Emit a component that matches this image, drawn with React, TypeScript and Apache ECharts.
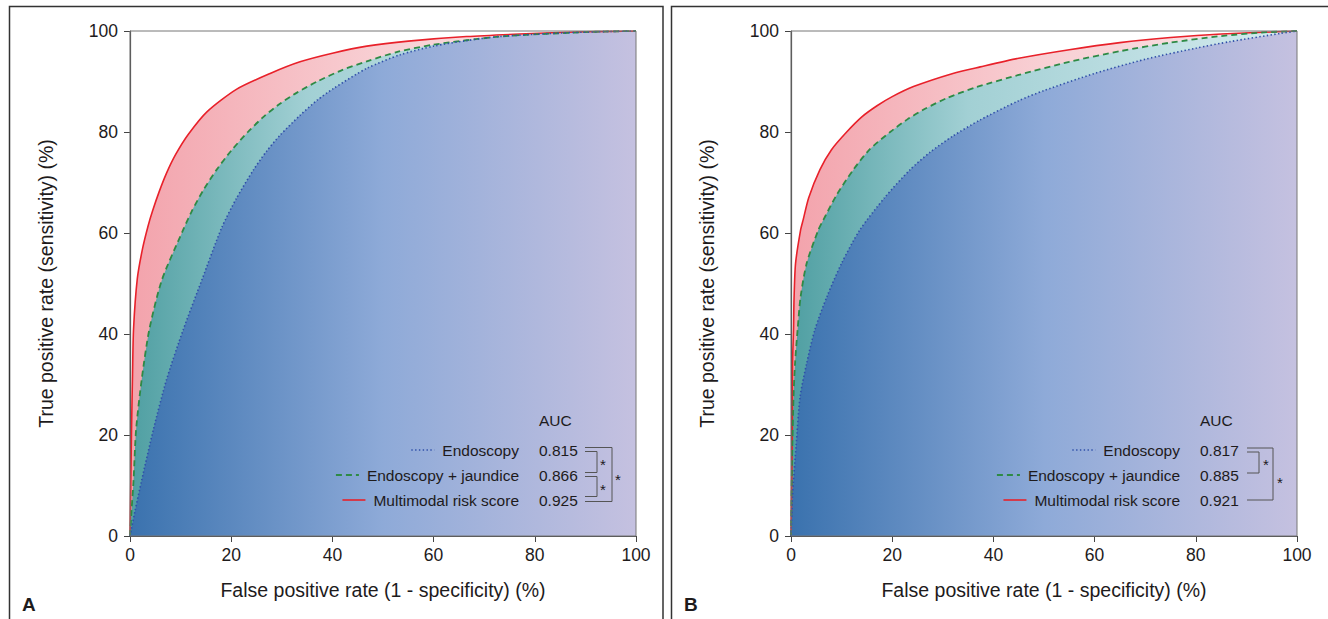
import React, { useEffect, useRef } from "react";
import * as echarts from "echarts";

// ---- Data (FPR %, TPR %) ----
const xTicks = [0, 20, 40, 60, 80, 100];
const seriesNames = ["Endoscopy", "Endoscopy + jaundice", "Multimodal risk score"];
const aucA = ["0.815", "0.866", "0.925"];
const aucB = ["0.817", "0.885", "0.921"];

const endoA = [[0,0],[1,5],[2.3,11],[4.6,21],[7.2,30.9],[10.5,40.8],[14.2,50.7],[18.1,61],[21,66.8],[24.4,72.5],[27,76.2],[29.6,79.3],[33.6,83.3],[37,86.3],[40.2,88.6],[46.8,92.6],[53.4,95.3],[60,97],[66.5,98.1],[73,98.9],[83,99.5],[92,99.85],[100,100]];
const jaundA = [[0,0],[0.3,5],[0.7,11],[1.2,21],[2.3,30.9],[3.8,40.8],[6.3,50.7],[10.5,60.6],[12.2,64.3],[14.5,68.5],[17.1,72.5],[20,76.3],[23.3,80],[26.5,83.1],[29.5,85.5],[33,87.8],[37,90],[42,92.3],[46.8,94],[53,95.9],[60,97.3],[73,98.9],[83.6,99.5],[92,99.85],[100,100]];
const multiA = [[0,0],[0.15,10],[0.3,21],[0.5,32],[0.7,41],[1.45,51],[2.5,57],[3.6,61.5],[4.5,64.5],[5.7,68],[7.2,71.8],[9,75.5],[11.5,79.5],[15.2,84],[21.1,88.5],[27.7,91.6],[33.6,93.9],[40,95.6],[46.8,97],[55,98],[66.5,98.9],[79.5,99.5],[90,99.85],[100,100]];

const endoB = [[0,0],[0.3,8],[1,17.7],[1.8,27.6],[3.1,34.2],[4.7,40.8],[7.1,47.4],[10,54],[13.6,60.6],[18.5,67],[23.5,72.5],[27.5,76],[32,79.2],[37.4,82.4],[45,86.2],[50,88.2],[60,91.6],[70,94.4],[80,96.6],[86.8,97.9],[96.6,99.5],[100,100]];
const jaundB = [[0,0],[0.1,8],[0.2,14.5],[0.5,27.6],[0.8,34.2],[1.3,40.8],[1.9,47.4],[3.1,54],[5.4,60.6],[6.4,62.6],[9,67.5],[12.3,72.5],[15.5,76.5],[19.6,80],[23,82.5],[26.5,84.6],[31,86.8],[36.7,88.9],[45,91.3],[55,93.9],[65,96],[75,97.7],[85,99],[93,99.7],[100,100]];
const multiB = [[0,0],[0.25,20],[0.3,34],[0.5,41],[0.6,47],[0.9,54],[1.9,60.6],[2.4,62.6],[3.5,67],[5.7,72.5],[8,76.5],[11,80],[14,83],[17,85.2],[20,87],[24.2,89],[32,91.6],[37.4,92.9],[45,94.6],[55,96.3],[65,97.7],[75,98.7],[85,99.4],[100,100]];

const FONT = "'Liberation Sans', Arial, sans-serif";
const TXT = "#1e1b1c";

function grad(stops: [number, string][]) {
  return new echarts.graphic.LinearGradient(0, 0, 1, 0, stops.map(([o, c]) => ({ offset: o, color: c })));
}

function panelSeries(ai: number, endo: number[][], jaund: number[][], multi: number[][]) {
  const common = { type: "line", xAxisIndex: ai, yAxisIndex: ai, showSymbol: false, symbol: "none", smooth: 0.25, silent: true } as any;
  return [
    { ...common, name: seriesNames[2] + ai + "a", data: multi, z: 1, lineStyle: { width: 0 }, areaStyle: { opacity: 1, color: grad([[0, "#f3a3ac"], [0.5, "#f8d0d4"], [1, "#fbe3e6"]]) } },
    { ...common, name: seriesNames[1] + ai + "a", data: jaund, z: 2, lineStyle: { width: 0 }, areaStyle: { opacity: 1, color: grad([[0, "#4f9fa2"], [0.35, "#a2d0d4"], [1, "#d6ebef"]]) } },
    { ...common, name: seriesNames[0] + ai + "a", data: endo, z: 3, lineStyle: { width: 0 }, areaStyle: { opacity: 1, color: grad([[0, "#3a72ae"], [0.5, "#8eaad8"], [1, "#c5c1e0"]]) } },
    { ...common, name: seriesNames[2] + ai, data: multi, z: 5, lineStyle: { color: "#e8212a", width: 1.6 } },
    { ...common, name: seriesNames[1] + ai, data: jaund, z: 5, lineStyle: { color: "#2e8a45", width: 1.8, type: [6, 4] } },
    { ...common, name: seriesNames[0] + ai, data: endo, z: 5, lineStyle: { color: "#2f4fa8", width: 1.6, type: [1.4, 2.4] } },
  ];
}

function axisX(gi: number) {
  return {
    type: "value", gridIndex: gi, min: 0, max: 100, interval: 20,
    name: "False positive rate (1 - specificity) (%)", nameLocation: "middle", nameGap: 44,
    nameTextStyle: { fontFamily: FONT, fontSize: 19.5, color: TXT },
    axisLine: { show: true, lineStyle: { color: "#444", width: 1.2 } },
    axisTick: { show: true, length: 6, lineStyle: { color: "#444" } },
    axisLabel: { margin: 10, fontFamily: FONT, fontSize: 17.5, color: TXT, formatter: (v: number) => (xTicks.includes(v) ? String(v) : "") },
    splitLine: { show: false },
  };
}
function axisY(gi: number) {
  return {
    type: "value", gridIndex: gi, min: 0, max: 100, interval: 20,
    name: "True positive rate (sensitivity) (%)", nameLocation: "middle", nameGap: 74, nameRotate: 90,
    nameTextStyle: { fontFamily: FONT, fontSize: 19.5, color: TXT },
    axisLine: { show: true, lineStyle: { color: "#444", width: 1.2 } },
    axisTick: { show: true, length: 6, lineStyle: { color: "#444" } },
    axisLabel: { margin: 12, fontFamily: FONT, fontSize: 17.5, color: TXT },
    splitLine: { show: false },
  };
}

function measure(text: string, size: number) {
  const c = document.createElement("canvas").getContext("2d");
  if (!c) return text.length * size * 0.5;
  c.font = `${size}px ${FONT}`;
  return c.measureText(text).width;
}

function legendGraphics(dx: number, aucs: string[], brackets: "A" | "B") {
  const g: any[] = [];
  const rows = [450, 475, 500];
  const fs = 15.5;
  const textRight = 519 + dx;
  const valX = 539 + dx;
  g.push({ type: "text", x: valX, y: 420, z: 100, style: { text: "AUC", fontFamily: FONT, fontSize: fs, fill: TXT, align: "left", verticalAlign: "middle" } });
  const lineStyles = [
    { stroke: "#2f4fa8", lineWidth: 1.6, lineDash: [1.4, 2.4] },
    { stroke: "#2e8a45", lineWidth: 1.8, lineDash: [6, 4] },
    { stroke: "#e8212a", lineWidth: 1.6 },
  ];
  seriesNames.forEach((nm, i) => {
    const w = measure(nm, fs);
    const left = textRight - w;
    g.push({ type: "text", x: textRight, y: rows[i], z: 100, style: { text: nm, fontFamily: FONT, fontSize: fs, fill: TXT, align: "right", verticalAlign: "middle" } });
    g.push({ type: "line", z: 100, shape: { x1: left - 31, y1: rows[i], x2: left - 8, y2: rows[i] }, style: lineStyles[i] });
    g.push({ type: "text", x: valX, y: rows[i], z: 100, style: { text: aucs[i], fontFamily: FONT, fontSize: fs, fill: TXT, align: "left", verticalAlign: "middle" } });
  });
  const bs = { stroke: "#555", lineWidth: 1 };
  const L = (x1: number, y1: number, x2: number, y2: number) => g.push({ type: "line", z: 100, shape: { x1: x1 + dx, y1, x2: x2 + dx, y2 }, style: bs });
  const star = (x: number, y: number) => g.push({ type: "text", x: x + dx, y, z: 100, style: { text: "*", fontFamily: FONT, fontSize: 15, fill: TXT, align: "center", verticalAlign: "middle" } });
  if (brackets === "A") {
    const s = 585, inner = 597, outer = 612;
    L(s, 447.5, outer, 447.5); L(s, 451.5, inner, 451.5); L(inner, 451.5, inner, 472.5);
    L(s, 472.5, inner, 472.5); L(s, 476.5, inner, 476.5); L(inner, 476.5, inner, 496.5);
    L(s, 496.5, inner, 496.5); L(s, 501.5, outer, 501.5); L(outer, 447.5, outer, 501.5);
    star(603, 464); star(603, 489); star(618, 479);
  } else {
    const s = 586, inner = 598, outer = 612;
    L(s, 448, outer, 448); L(s, 452, inner, 452); L(inner, 452, inner, 473);
    L(s, 473, inner, 473); L(s, 500, outer, 500); L(outer, 448, outer, 500);
    star(605, 464); star(619, 482);
  }
  return g;
}

export default function App() {
  const ref = useRef<HTMLDivElement>(null);
  useEffect(() => {
    document.body.style.margin = "0";
    if (!ref.current) return;
    const chart = echarts.init(ref.current, undefined, { renderer: "svg" });
    const graphics: any[] = [
      { type: "rect", z: 0, shape: { x: 9.5, y: 6.5, width: 653.5, height: 640 }, style: { fill: "none", stroke: "#333", lineWidth: 1.5 } },
      { type: "rect", z: 0, shape: { x: 671.5, y: 6.5, width: 700, height: 640 }, style: { fill: "none", stroke: "#333", lineWidth: 1.5 } },
      { type: "text", x: 22, y: 604, style: { text: "A", fontFamily: FONT, fontSize: 19, fontWeight: "bold", fill: TXT, verticalAlign: "middle" } },
      { type: "text", x: 684, y: 604, style: { text: "B", fontFamily: FONT, fontSize: 19, fontWeight: "bold", fill: TXT, verticalAlign: "middle" } },
      ...legendGraphics(0, aucA, "A"),
      ...legendGraphics(661, aucB, "B"),
    ];
    chart.setOption({
      animation: false,
      backgroundColor: "#fff",
      grid: [
        { left: 130, top: 31, width: 506, height: 505, show: true, borderColor: "#777", borderWidth: 1, backgroundColor: "transparent", z: 6 },
        { left: 791, top: 31, width: 506, height: 505, show: true, borderColor: "#777", borderWidth: 1, backgroundColor: "transparent", z: 6 },
      ],
      xAxis: [axisX(0), axisX(1)],
      yAxis: [axisY(0), axisY(1)],
      series: [...panelSeries(0, endoA, jaundA, multiA), ...panelSeries(1, endoB, jaundB, multiB)],
      graphic: graphics,
    });
    return () => chart.dispose();
  }, []);
  return <div ref={ref} style={{ width: 1328, height: 619 }} />;
}
